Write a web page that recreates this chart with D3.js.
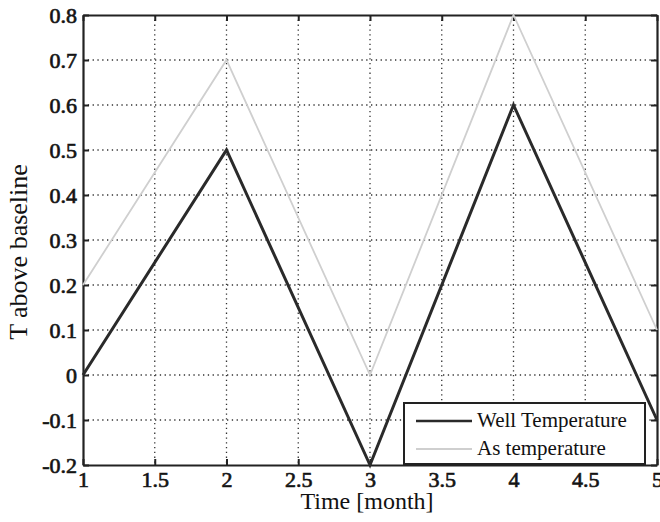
<!DOCTYPE html>
<html>
<head>
<meta charset="utf-8">
<script src="https://cdn.jsdelivr.net/npm/d3@7"></script>
<style>
  body { margin: 0; background: #fff; }
  svg text { font-family: "Liberation Serif", "Times New Roman", serif; fill: #111; }
</style>
</head>
<body>
<script>
// data
const months = [1, 2, 3, 4, 5];
const wellTemp = [0, 0.5, -0.2, 0.6, -0.1];
const asTemp = [0.2, 0.7, 0.0, 0.8, 0.1];
const xTicks = [1, 1.5, 2, 2.5, 3, 3.5, 4, 4.5, 5];
const yTicks = [-0.2, -0.1, 0, 0.1, 0.2, 0.3, 0.4, 0.5, 0.6, 0.7, 0.8];
const seriesNames = ["Well Temperature", "As temperature"];

const W = 660, H = 522;
const m = {left: 83, right: 3, top: 15, bottom: 57};

const svg = d3.select('body').append('svg')
  .attr('width', W).attr('height', H);

const x = d3.scaleLinear().domain([1, 5]).range([m.left, W - m.right]);
const y = d3.scaleLinear().domain([-0.2, 0.8]).range([H - m.bottom, m.top]);

// dotted grid
svg.append('g').selectAll('line').data(xTicks.slice(1, -1)).enter().append('line')
  .attr('x1', d => x(d)).attr('x2', d => x(d))
  .attr('y1', y(0.8)).attr('y2', y(-0.2))
  .attr('stroke', '#333').attr('stroke-width', 1.3).attr('stroke-dasharray', '1.3,3.5');
svg.append('g').selectAll('line').data(yTicks.slice(1, -1)).enter().append('line')
  .attr('y1', d => y(d)).attr('y2', d => y(d))
  .attr('x1', x(1)).attr('x2', x(5))
  .attr('stroke', '#333').attr('stroke-width', 1.3).attr('stroke-dasharray', '1.3,3.5');

// axes, ticks pointing in
const fmt = d => String(+d.toFixed(1));
const xAxis = svg.append('g').attr('transform', `translate(0,${y(-0.2)})`)
  .call(d3.axisBottom(x).tickValues(xTicks).tickSizeInner(-6).tickSizeOuter(0).tickPadding(6).tickFormat(fmt));
const xTop = svg.append('g').attr('transform', `translate(0,${y(0.8)})`)
  .call(d3.axisTop(x).tickValues(xTicks).tickSizeInner(-6).tickSizeOuter(0).tickFormat(''));
const yAxis = svg.append('g').attr('transform', `translate(${x(1)},0)`)
  .call(d3.axisLeft(y).tickValues(yTicks).tickSizeInner(-6).tickSizeOuter(0).tickPadding(6).tickFormat(fmt));
const yRight = svg.append('g').attr('transform', `translate(${x(5)},0)`)
  .call(d3.axisRight(y).tickValues(yTicks).tickSizeInner(-6).tickSizeOuter(0).tickFormat(''));

[xAxis, xTop, yAxis, yRight].forEach(a => {
  a.attr('font-family', null).attr('font-size', null);
  a.selectAll('path').attr('stroke', '#222').attr('stroke-width', 2.2);
  a.selectAll('line').attr('stroke', '#222').attr('stroke-width', 2);
  a.selectAll('text')
    .attr('font-size', 22).attr('fill', '#1a1a1a')
    .attr('stroke', '#1a1a1a').attr('stroke-width', 0.7);
});

// series
const line = d3.line().x((d, i) => x(months[i])).y(d => y(d));
svg.append('path').datum(asTemp).attr('d', line)
  .attr('fill', 'none').attr('stroke', '#cfcfcf').attr('stroke-width', 1.8);
svg.append('path').datum(wellTemp).attr('d', line)
  .attr('fill', 'none').attr('stroke', '#2a2a2a').attr('stroke-width', 3);

// axis titles
svg.append('text').attr('x', 367).attr('y', 509)
  .attr('text-anchor', 'middle').attr('font-size', 24).text('Time [month]');
svg.append('text').attr('transform', 'translate(27,252) rotate(-90)')
  .attr('text-anchor', 'middle').attr('font-size', 26).text('T above baseline');

// legend
const lg = svg.append('g').attr('transform', 'translate(404,403)');
lg.append('rect').attr('width', 241).attr('height', 61)
  .attr('fill', '#fff').attr('stroke', '#222').attr('stroke-width', 2);
const colors = ['#2a2a2a', '#cfcfcf'];
const widths = [2.5, 1.8];
seriesNames.forEach((n, i) => {
  lg.append('line').attr('x1', 12).attr('x2', 68).attr('y1', 18 + i * 28).attr('y2', 18 + i * 28)
    .attr('stroke', colors[i]).attr('stroke-width', widths[i]);
  lg.append('text').attr('x', 73).attr('y', 24 + i * 28)
    .attr('font-size', 21).text(n);
});
</script>
</body>
</html>
